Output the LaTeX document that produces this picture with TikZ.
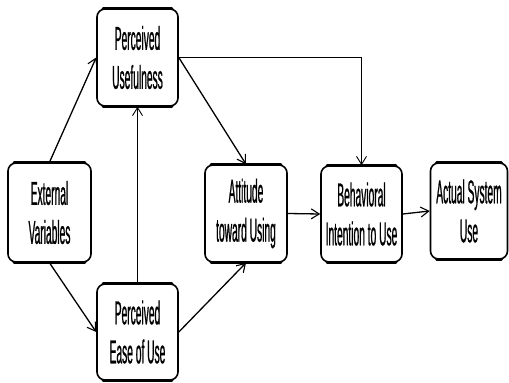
\documentclass[tikz,border=0pt]{standalone}
\usepackage{fontspec}
\setmainfont[FakeStretch=0.31,FakeBold=0.6]{Liberation Sans}
\usetikzlibrary{arrows.meta}
\tikzset{
  box/.style={draw, line width=1.6pt, rounded corners=8pt, align=center,
    font=\fontsize{33}{39}\selectfont, inner sep=0pt},
  arr/.style={line width=1.3pt, -{Straight Barb[length=8pt,width=10pt,line width=1.1pt]}},
  thinarr/.style={line width=0.8pt, -{Straight Barb[length=8pt,width=10pt,line width=0.9pt]}},
  edge/.style={line width=3pt, line cap=round}
}
\begin{document}
\begin{tikzpicture}[x=1pt,y=-1pt]
\useasboundingbox (0,0) rectangle (509,383);
\node[box, minimum width=81pt, minimum height=97pt] (PU) at (137.5,57.5) {Perceived\\Usefulness};
\node[box, minimum width=83pt, minimum height=99pt] (EV) at (49.5,212.5) {External\\Variables};
\node[box, minimum width=81pt, minimum height=96pt] (PEU) at (137.5,332) {Perceived\\Ease of Use};
\node[box, minimum width=82pt, minimum height=97pt] (ATU) at (246,213.5) {Attitude\\toward Using};
\node[box, minimum width=81pt, minimum height=96pt] (BI) at (361.5,214) {Behavioral\\Intention to Use};
\node[box, minimum width=77pt, minimum height=96pt] (ASU) at (469,211) {Actual System\\Use};
\foreach \n in {PU,EV,PEU,ATU,BI,ASU}{
  \draw[edge] ([xshift=7pt]\n.north west) -- ([xshift=-7pt]\n.north east);
  \draw[edge] ([xshift=7pt]\n.south west) -- ([xshift=-7pt]\n.south east);
}
\coordinate (corner) at (361.5,57.5);
\draw[arr] (EV.north) -- (PU.west);
\draw[arr] (EV.south) -- (PEU.west);
\draw[thinarr] (PEU.north) -- (PU.south);
\draw[arr] (PEU.east) -- (ATU.south);
\draw[arr] (PU.east) -- (ATU.north);
\draw[line width=1.5pt] (PU.east) -- (corner);
\draw[thinarr] (corner) -- (BI.north);
\draw[arr] (ATU.east) -- (BI.west);
\draw[arr] (BI.east) -- (ASU.west);
\end{tikzpicture}
\end{document}
